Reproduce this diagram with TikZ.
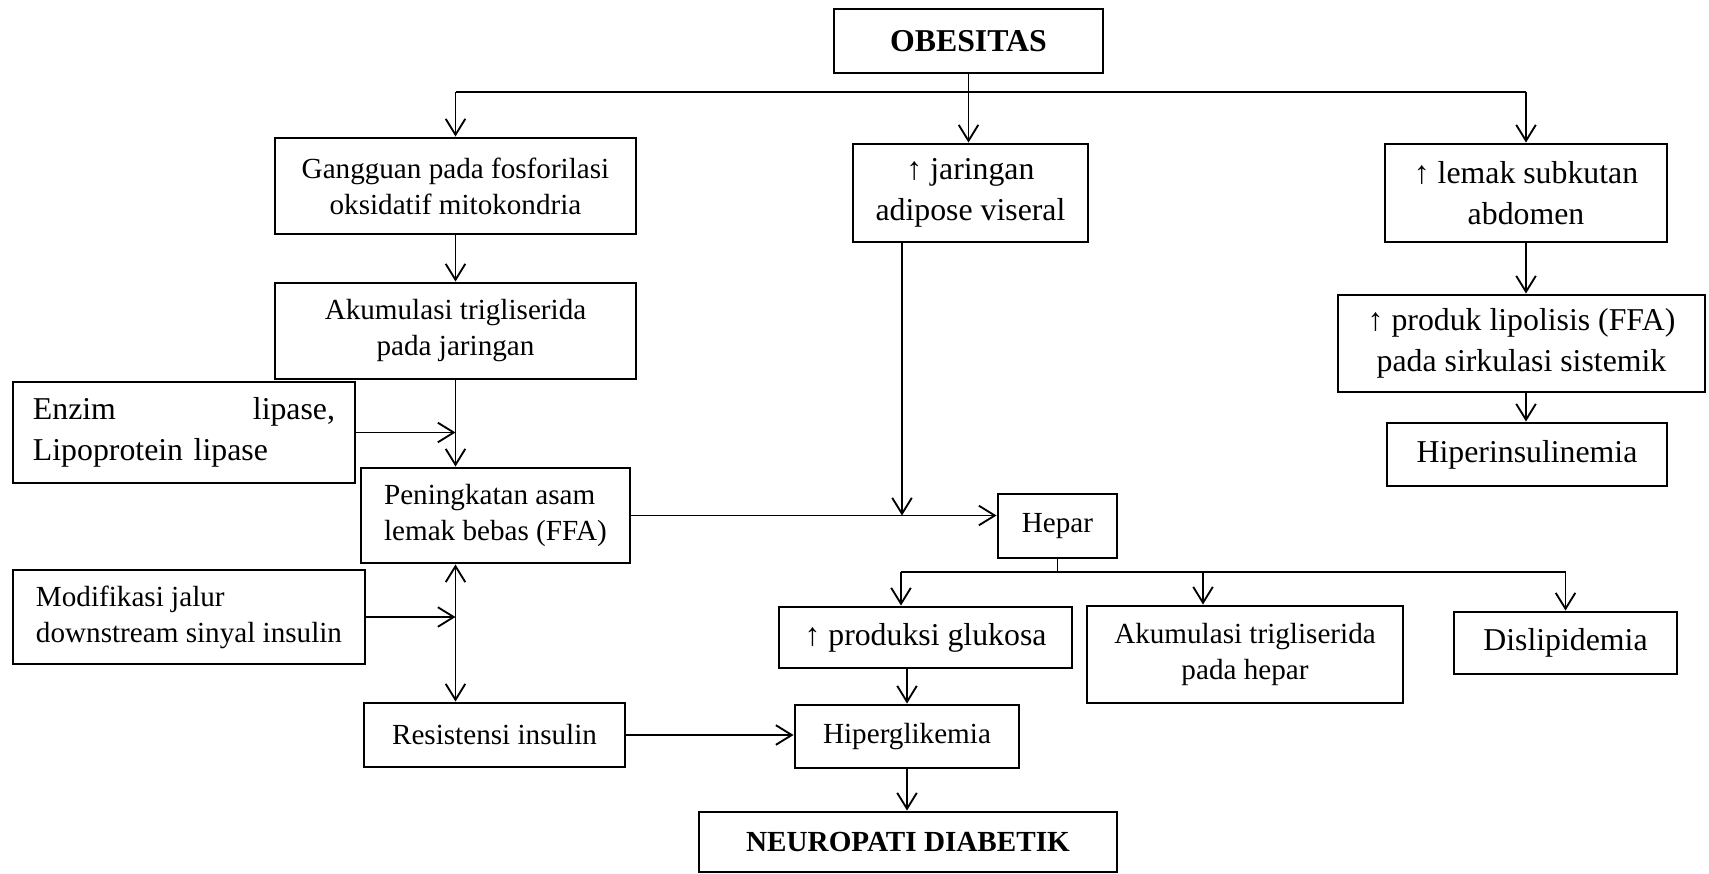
\documentclass[tikz,border=0pt]{standalone}
\usepackage{fontspec}
\setmainfont{Liberation Serif}
\usetikzlibrary{arrows.meta,calc}
\tikzset{
  box/.style={draw, line width=1.1pt, inner sep=0pt, align=center,
              font=\fontsize{11}{13.6}\selectfont},
  bigbox/.style={box, font=\fontsize{12}{15.3}\selectfont},
  headbox/.style={box, font=\fontsize{12}{14}\selectfont\bfseries},
  wh/.style 2 args={minimum width=#1*0.3774pt, minimum height=#2*0.3774pt},
  arr/.style={-{Straight Barb[length=6pt,width=7.4pt]}, line width=0.7pt},
  dblarr/.style={arr, {Straight Barb[length=6pt,width=7.4pt]}-{Straight Barb[length=6pt,width=7.4pt]}},
  link/.style={line width=0.7pt}
}
\begin{document}
\begin{tikzpicture}[x=0.3774pt, y=-0.3774pt]
\useasboundingbox (0,0) rectangle (1709,874);
\node[headbox, wh={269}{64}] (obes) at (968.5,41) {OBESITAS};
\node[box, wh={361}{96}] (gang) at (455.5,186) {Gangguan pada fosforilasi\\oksidatif mitokondria};
\node[bigbox, wh={235}{98}] (jar) at (970.5,193) {↑ jaringan\\adipose viseral};
\node[bigbox, wh={282}{98}] (lemak) at (1526,193) {↑ lemak subkutan\\abdomen};
\node[box, wh={361}{96}] (akum) at (455.5,331) {Akumulasi trigliserida\\pada jaringan};
\node[bigbox, wh={367}{97}] (lipo) at (1521.5,343.5) {↑ produk lipolisis (FFA)\\pada sirkulasi sistemik};
\node[bigbox, wh={280}{63}] (hins) at (1527,454.5) {Hiperinsulinemia};
\node[bigbox, wh={342}{101}, text width=114pt, align=left] (enzim) at (184,432.5) {Enzim\hfill lipase,\\Lipoprotein lipase};
\node[box, wh={269}{95}, align=left] (ffa) at (495.5,515.5) {Peningkatan asam\\lemak bebas (FFA)};
\node[box, wh={119}{64}] (hepar) at (1057.5,526) {Hepar};
\node[box, wh={352}{94}, align=left] (modif) at (189,617) {Modifikasi jalur\\downstream sinyal insulin};
\node[bigbox, wh={293}{61}] (gluk) at (925.5,637.5) {↑ produksi glukosa};
\node[box, wh={316}{97}] (akhep) at (1245,654.5) {Akumulasi trigliserida\\pada hepar};
\node[bigbox, wh={223}{62}] (dislip) at (1565.5,643) {Dislipidemia};
\node[box, wh={261}{64}] (resist) at (494.5,735) {Resistensi insulin};
\node[box, wh={224}{63}] (hglik) at (907,736.5) {Hiperglikemia};
\node[box, font=\fontsize{11}{13.6}\selectfont\bfseries, wh={418}{60}] (neuro) at (908,842) {NEUROPATI DIABETIK};
\coordinate (s1) at (455.5,92);
\coordinate (s2) at (1526,92);
\draw[link] (s1) -- (s2);
\draw[arr] (s1) -- (gang.north);
\draw[arr] (obes.south) -- (obes.south |- jar.north);
\draw[arr] (s2) -- (lemak.north);
\draw[arr] (gang) -- (akum);
\draw[arr] (akum.south) -- (akum.south |- ffa.north);
\draw[arr] (enzim.east) -- (enzim.east -| akum.south);
\draw[dblarr] (ffa.south -| akum.south) -- (resist.north -| akum.south);
\draw[arr] (modif.east) -- (modif.east -| akum.south);
\draw[arr] (resist.east) -- (resist.east -| hglik.west);
\draw[arr] (ffa.east) -- (ffa.east -| hepar.west);
\coordinate (jv) at (902,515.5);
\draw[arr] (jar.south -| jv) -- (jv);
\coordinate (b1) at (901,572);
\coordinate (b2) at (1203,572);
\coordinate (b3) at (1565.5,572);
\draw[link] (hepar.south) -- (hepar.south |- b1);
\draw[link] (b1) -- (b3);
\draw[arr] (b1) -- (b1 |- gluk.north);
\draw[arr] (b2) -- (b2 |- akhep.north);
\draw[arr] (b3) -- (dislip.north);
\draw[arr] (gluk.south -| hglik.north) -- (hglik.north);
\draw[arr] (hglik.south) -- (hglik.south |- neuro.north);
\draw[arr] (lemak.south) -- (lemak.south |- lipo.north);
\draw[arr] (lemak.south |- lipo.south) -- (lemak.south |- hins.north);
\end{tikzpicture}
\end{document}
